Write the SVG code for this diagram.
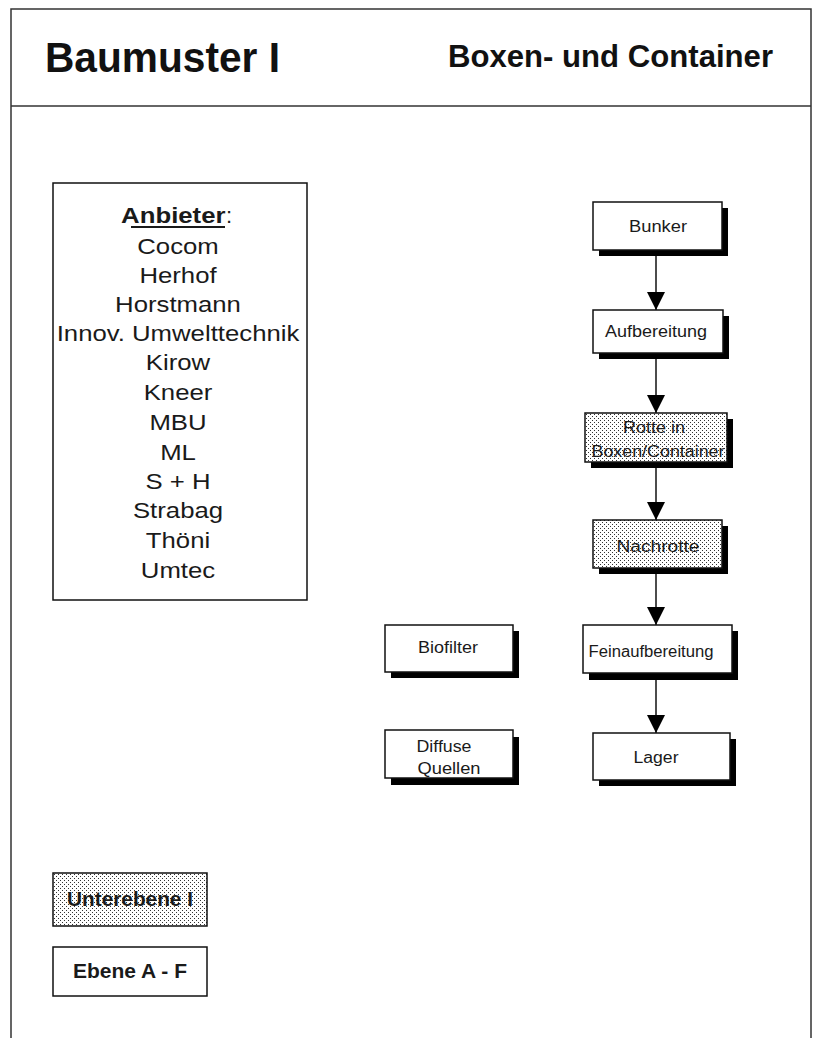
<svg xmlns="http://www.w3.org/2000/svg" width="813" height="1038" viewBox="0 0 813 1038">
<style>
.box{fill:#fff;stroke:#111;stroke-width:1.5}
.dot{fill:url(#dots);stroke:#111;stroke-width:1.5}
.sh{fill:#000}
.t{font-family:"Liberation Sans",Arial,sans-serif;font-size:16px;fill:#1a1a1a;text-anchor:middle}
.b{font-weight:bold}
.l{font-family:"Liberation Sans",Arial,sans-serif;font-size:22px;fill:#1a1a1a;text-anchor:middle}
.c{stroke:#111;stroke-width:1.5;fill:none;marker-end:url(#ah)}
</style>
<defs>
<pattern id="dots" width="4" height="4" patternUnits="userSpaceOnUse">
<rect width="4" height="4" fill="#fff"/>
<rect x="0" y="0" width="1" height="1" fill="#333"/>
<rect x="2" y="2" width="1" height="1" fill="#333"/>
</pattern>
<marker id="ah" markerUnits="userSpaceOnUse" markerWidth="18" markerHeight="18" refX="18" refY="9" orient="auto">
<path d="M0,0 L18,9 L0,18 z" fill="#000"/>
</marker>
</defs>
<rect width="813" height="1038" fill="#fff"/>
<g id="frame">
<rect x="11" y="9" width="800" height="1040" fill="none" stroke="#333" stroke-width="1.5"/>
<line x1="11" y1="106" x2="811" y2="106" stroke="#333" stroke-width="1.5"/>
<text x="45" y="72" font-family="'Liberation Sans',Arial,sans-serif" font-size="42" font-weight="bold" fill="#111" textLength="235" lengthAdjust="spacingAndGlyphs">Baumuster I</text>
<text x="448" y="67" font-family="'Liberation Sans',Arial,sans-serif" font-size="32" font-weight="bold" fill="#111" textLength="325" lengthAdjust="spacingAndGlyphs">Boxen- und Container</text>
</g>
<g id="anbieter">
<rect class="box" x="53" y="183" width="254" height="417"/>
<g transform="translate(178,0) scale(1.17,1)">
<text class="l b" x="-4" y="223">Anbieter</text>
<text class="l" x="0" y="254">Cocom</text>
<text class="l" x="0" y="283">Herhof</text>
<text class="l" x="0" y="312">Horstmann</text>
<text class="l" x="0" y="341">Innov. Umwelttechnik</text>
<text class="l" x="0" y="370">Kirow</text>
<text class="l" x="0" y="400">Kneer</text>
<text class="l" x="0" y="430">MBU</text>
<text class="l" x="0" y="460">ML</text>
<text class="l" x="0" y="489">S + H</text>
<text class="l" x="0" y="518">Strabag</text>
<text class="l" x="0" y="548">Thöni</text>
<text class="l" x="0" y="578">Umtec</text>
</g>
<text x="226" y="223" font-family="'Liberation Sans',Arial,sans-serif" font-size="22" fill="#1a1a1a">:</text>
<line x1="131" y1="227" x2="225" y2="227" stroke="#1a1a1a" stroke-width="2"/>
</g>
<g id="connectors">
<line class="c" x1="656" y1="250" x2="656" y2="310"/>
<line class="c" x1="656" y1="353" x2="656" y2="413"/>
<line class="c" x1="656" y1="462" x2="656" y2="520"/>
<line class="c" x1="656" y1="568" x2="656" y2="625"/>
<line class="c" x1="656" y1="673" x2="656" y2="733"/>
</g>
<g id="bunker">
<rect class="sh" x="599" y="208" width="129" height="48"/>
<rect class="box" x="593" y="202" width="129" height="48"/>
<text class="t" x="658" y="232" textLength="58" lengthAdjust="spacingAndGlyphs">Bunker</text>
</g>
<g id="aufbereitung">
<rect class="sh" x="599" y="316" width="130" height="43"/>
<rect class="box" x="593" y="310" width="130" height="43"/>
<text class="t" x="656" y="337" textLength="102" lengthAdjust="spacingAndGlyphs">Aufbereitung</text>
</g>
<g id="rotte">
<rect class="sh" x="591" y="419" width="142" height="49"/>
<rect class="dot" x="585" y="413" width="142" height="49"/>
<text class="t" x="654" y="433" textLength="62" lengthAdjust="spacingAndGlyphs">Rotte in</text>
<text class="t" x="658" y="457" textLength="133" lengthAdjust="spacingAndGlyphs">Boxen/Container</text>
</g>
<g id="nachrotte">
<rect class="sh" x="599" y="526" width="129" height="48"/>
<rect class="dot" x="593" y="520" width="129" height="48"/>
<text class="t" x="658" y="552" textLength="83" lengthAdjust="spacingAndGlyphs">Nachrotte</text>
</g>
<g id="feinaufbereitung">
<rect class="sh" x="589" y="631" width="149" height="49"/>
<rect class="box" x="583" y="625" width="149" height="48"/>
<text class="t" x="651" y="657" textLength="125" lengthAdjust="spacingAndGlyphs">Feinaufbereitung</text>
</g>
<g id="lager">
<rect class="sh" x="599" y="739" width="137" height="47"/>
<rect class="box" x="593" y="733" width="137" height="47"/>
<text class="t" x="656" y="763" textLength="45" lengthAdjust="spacingAndGlyphs">Lager</text>
</g>
<g id="biofilter">
<rect class="sh" x="391" y="631" width="128" height="47"/>
<rect class="box" x="385" y="625" width="128" height="47"/>
<text class="t" x="448" y="653" textLength="60" lengthAdjust="spacingAndGlyphs">Biofilter</text>
</g>
<g id="diffuse">
<rect class="sh" x="391" y="737" width="128" height="48"/>
<rect class="box" x="385" y="730" width="128" height="48"/>
<text class="t" x="444" y="752" textLength="55" lengthAdjust="spacingAndGlyphs">Diffuse</text>
<text class="t" x="449" y="774" textLength="63" lengthAdjust="spacingAndGlyphs">Quellen</text>
</g>
<g id="unterebene">
<rect class="dot" x="53" y="873" width="154" height="53"/>
<text class="t b" x="130" y="906" textLength="126" lengthAdjust="spacingAndGlyphs" style="font-size:20px">Unterebene I</text>
</g>
<g id="ebene">
<rect class="box" x="53" y="947" width="154" height="49"/>
<text class="t b" x="130" y="978" textLength="114" lengthAdjust="spacingAndGlyphs" style="font-size:21px">Ebene A - F</text>
</g>
</svg>
